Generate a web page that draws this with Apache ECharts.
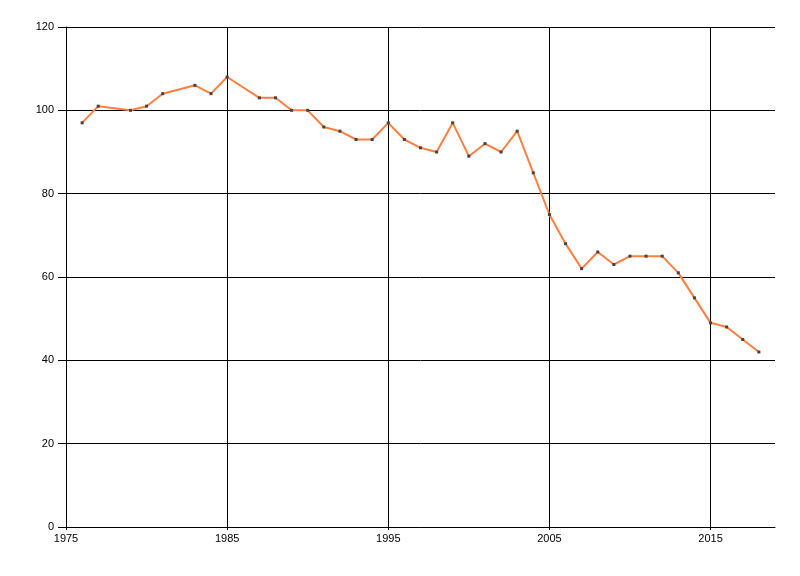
<!DOCTYPE html>
<html>
<head>
<meta charset="utf-8">
<script src="https://cdn.jsdelivr.net/npm/echarts@6/dist/echarts.min.js"></script>
<style>html,body{margin:0;padding:0;background:#fff;}#c{width:800px;height:576px;}</style>
</head>
<body>
<div id="c"></div>
<script>
const years = [1976,1977,1979,1980,1981,1983,1984,1985,1987,1988,1989,1990,1991,1992,1993,1994,1995,1996,1997,1998,1999,2000,2001,2002,2003,2004,2005,2006,2007,2008,2009,2010,2011,2012,2013,2014,2015,2016,2017,2018];
const values = [97,101,100,101,104,106,104,108,103,103,100,100,96,95,93,93,97,93,91,90,97,89,92,90,95,85,75,68,62,66,63,65,65,65,61,55,49,48,45,42];
const xTicks = [1975,1985,1995,2005,2015];
const yTicks = [0,20,40,60,80,100,120];

const chart = echarts.init(document.getElementById('c'), null, {renderer:'canvas'});
const font = {fontFamily:'Liberation Sans, Arial, sans-serif', fontSize:11, color:'#000'};
chart.setOption({
  animation:false,
  backgroundColor:'#fff',
  grid:{left:66, right:25, top:27, bottom:49, containLabel:false},
  xAxis:{
    type:'value', min:1975, max:2019, interval:10,
    axisLine:{show:true, lineStyle:{color:'#000', width:1}},
    axisTick:{show:true, length:3, lineStyle:{color:'#000'}, customValues: xTicks},
    axisLabel:Object.assign({margin:6, customValues: xTicks, formatter: v => String(v)}, font),
    splitLine:{show:true, lineStyle:{color:'#000', width:1}, customValues: xTicks}
  },
  yAxis:{
    type:'value', min:0, max:120, interval:20,
    axisLine:{show:true, lineStyle:{color:'#000', width:1}},
    axisTick:{show:true, length:8, lineStyle:{color:'#000'}},
    axisLabel:Object.assign({margin:12, formatter: v => yTicks.includes(v) ? String(v) : ''}, font),
    splitLine:{show:true, lineStyle:{color:'#000', width:1}}
  },
  series:[{
    type:'line',
    data: years.map((y,i)=>[y, values[i]]),
    symbol:'rect', symbolSize:3, showSymbol:true,
    lineStyle:{color:'#FF7F3F', width:2},
    itemStyle:{color:'#444'},
    z:3
  }]
});
</script>
</body>
</html>
